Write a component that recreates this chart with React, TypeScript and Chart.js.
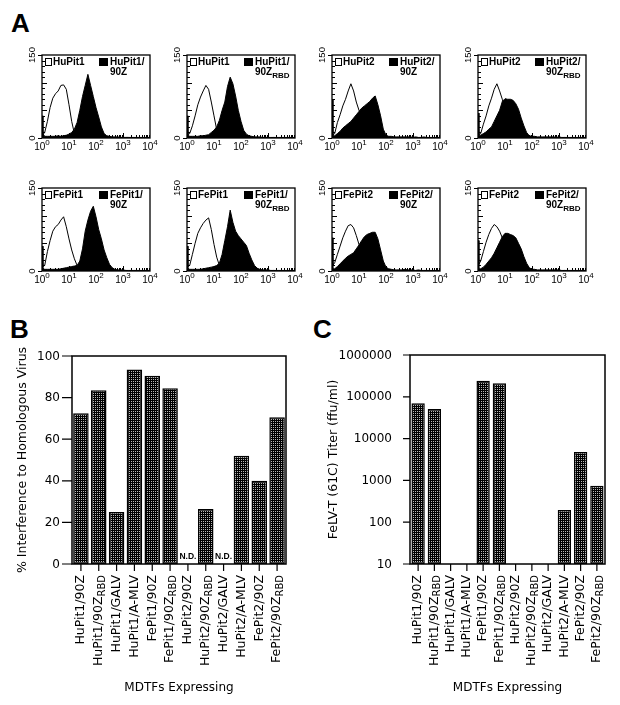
import React, { useEffect, useRef } from 'react';
import { Chart, registerables } from 'chart.js';

Chart.register(...registerables);

// ---------- Panel A: flow cytometry histograms ----------
// log10 fluorescence bin positions (decades)
const binExponents = [0, 0.03, 0.1, 0.2, 0.3, 0.4, 0.5, 0.6, 0.7, 0.8,
  0.9, 1.0, 1.1, 1.2, 1.3, 1.4, 1.5, 1.6, 1.7, 1.8,
  1.9, 2.0, 2.1, 2.2, 2.3, 2.4, 2.5, 2.6, 2.7, 2.8,
  2.9, 3.0, 3.1, 3.2, 3.3, 3.4, 3.5, 3.6, 3.7, 3.8,
  3.9, 4.0];

const huPit1Open = [40, 6, 10, 30, 55, 72, 80, 85, 95, 96,
  88, 60, 30, 8, 4, 3, 3, 2, 2, 2,
  2, 2, 1, 1, 1, 1, 1, 1, 1, 1,
  1, 1, 1, 1, 0, 1, 0, 0, 1, 0,
  0, 0];
const huPit1_90Z = [40, 8, 3, 3, 3, 3, 3, 4, 3, 4,
  5, 7, 10, 16, 28, 50, 75, 95, 115, 95,
  75, 55, 38, 20, 8, 4, 3, 2, 2, 2,
  1, 1, 1, 1, 1, 1, 1, 1, 1, 1,
  1, 1];
const huPit1OpenB = [40, 6, 8, 22, 40, 60, 74, 85, 95, 88,
  65, 40, 15, 6, 4, 3, 2, 2, 2, 2,
  2, 1, 1, 1, 1, 1, 1, 1, 1, 1,
  1, 1, 0, 1, 0, 0, 1, 0, 0, 0,
  0, 0];
const huPit1_90ZRBD = [40, 6, 3, 3, 3, 3, 4, 4, 5, 6,
  10, 14, 20, 32, 50, 65, 93, 110, 98, 76,
  50, 30, 14, 7, 4, 3, 2, 2, 2, 1,
  1, 1, 1, 1, 1, 1, 1, 1, 1, 1,
  1, 1];
const huPit2Open = [70, 5, 8, 28, 42, 58, 70, 85, 98, 85,
  65, 50, 35, 18, 6, 4, 3, 2, 2, 2,
  2, 2, 1, 1, 1, 1, 1, 1, 1, 1,
  1, 1, 1, 0, 1, 0, 0, 1, 0, 0,
  0, 0];
const huPit2_90Z = [70, 4, 4, 8, 12, 18, 22, 26, 30, 36,
  42, 48, 54, 58, 62, 66, 72, 76, 60, 40,
  16, 5, 3, 3, 2, 2, 2, 2, 2, 2,
  2, 1, 2, 1, 1, 2, 1, 1, 1, 1,
  1, 1];
const huPit2OpenB = [45, 6, 8, 25, 40, 58, 72, 88, 98, 85,
  70, 50, 30, 12, 5, 3, 2, 2, 2, 2,
  2, 1, 1, 1, 1, 1, 1, 1, 1, 1,
  1, 1, 0, 1, 0, 0, 1, 0, 0, 0,
  0, 0];
const huPit2_90ZRBD = [45, 5, 5, 8, 11, 16, 20, 30, 40, 50,
  66, 71, 70, 70, 68, 62, 52, 36, 22, 10,
  4, 3, 3, 2, 2, 2, 2, 2, 2, 2,
  1, 2, 1, 1, 1, 1, 1, 1, 1, 1,
  1, 1];
const fePit1Open = [45, 8, 10, 35, 55, 72, 80, 84, 92, 98,
  80, 58, 38, 22, 10, 5, 4, 3, 2, 2,
  2, 2, 1, 1, 1, 1, 1, 1, 1, 1,
  1, 1, 1, 0, 1, 0, 0, 1, 0, 0,
  0, 0];
const fePit1_90Z = [45, 5, 3, 3, 3, 3, 3, 3, 4, 5,
  6, 7, 8, 9, 10, 18, 40, 72, 92, 108,
  117, 98, 75, 58, 38, 24, 12, 6, 3, 2,
  2, 2, 1, 1, 1, 1, 1, 1, 1, 1,
  1, 1];
const fePit1OpenB = [45, 8, 10, 30, 50, 68, 78, 86, 92, 96,
  75, 48, 25, 10, 5, 3, 3, 2, 2, 2,
  2, 1, 1, 1, 1, 1, 1, 1, 1, 1,
  1, 1, 0, 1, 0, 0, 1, 0, 0, 0,
  0, 0];
const fePit1_90ZRBD = [45, 5, 3, 3, 3, 3, 3, 4, 5, 6,
  7, 8, 10, 14, 30, 55, 80, 110, 88, 72,
  64, 58, 52, 46, 32, 20, 10, 5, 3, 2,
  2, 2, 1, 1, 1, 1, 1, 1, 1, 1,
  1, 1];
const fePit2Open = [60, 10, 15, 30, 45, 60, 72, 82, 84, 78,
  64, 48, 32, 16, 6, 3, 2, 2, 2, 2,
  2, 1, 1, 1, 1, 1, 1, 1, 1, 1,
  1, 1, 0, 1, 0, 0, 1, 0, 0, 0,
  0, 0];
const fePit2_90Z = [60, 4, 4, 8, 13, 18, 23, 27, 30, 33,
  40, 47, 55, 62, 66, 68, 70, 70, 58, 38,
  18, 7, 4, 3, 2, 2, 2, 2, 3, 2,
  2, 2, 1, 2, 1, 1, 1, 1, 1, 1,
  1, 1];
const fePit2OpenB = [55, 12, 18, 35, 52, 66, 77, 84, 80, 72,
  60, 45, 28, 12, 5, 3, 2, 2, 2, 2,
  2, 1, 1, 1, 1, 1, 1, 1, 1, 1,
  1, 1, 0, 1, 0, 0, 1, 0, 0, 0,
  0, 0];
const fePit2_90ZRBD = [55, 4, 4, 7, 12, 18, 24, 32, 42, 52,
  62, 68, 68, 66, 64, 60, 50, 40, 26, 14,
  6, 3, 3, 2, 2, 2, 2, 2, 2, 2,
  2, 2, 1, 1, 1, 1, 1, 1, 1, 1,
  1, 1];

const histogramOpenSeries = [huPit1Open, huPit1OpenB, huPit2Open, huPit2OpenB, fePit1Open, fePit1OpenB, fePit2Open, fePit2OpenB];
const histogramFilledSeries = [huPit1_90Z, huPit1_90ZRBD, huPit2_90Z, huPit2_90ZRBD, fePit1_90Z, fePit1_90ZRBD, fePit2_90Z, fePit2_90ZRBD];
const histogramOpenLabels = ['HuPit1', 'HuPit1', 'HuPit2', 'HuPit2', 'FePit1', 'FePit1', 'FePit2', 'FePit2'];
const histogramFilledLine1 = ['HuPit1/', 'HuPit1/', 'HuPit2/', 'HuPit2/', 'FePit1/', 'FePit1/', 'FePit2/', 'FePit2/'];
const histogramFilledLine2 = ['90Z', '90Z', '90Z', '90Z', '90Z', '90Z', '90Z', '90Z'];
const histogramFilledSub = ['', 'RBD', '', 'RBD', '', 'RBD', '', 'RBD'];
const histogramYTicks = [0, 150];
const histogramXTicks = [1, 10, 100, 1000, 10000];

// ---------- Panels B and C ----------
const categoryMain = ['HuPit1/90Z', 'HuPit1/90Z', 'HuPit1/GALV', 'HuPit1/A-MLV', 'FePit1/90Z', 'FePit1/90Z',
  'HuPit2/90Z', 'HuPit2/90Z', 'HuPit2/GALV', 'HuPit2/A-MLV', 'FePit2/90Z', 'FePit2/90Z'];
const categorySub = ['', 'RBD', '', '', '', 'RBD', '', 'RBD', '', '', '', 'RBD'];
const interferenceValues = [72.5, 83.5, 25, 93.5, 90.5, 84.5, null, 26.5, null, 52, 40, 70.5];
const interferenceNotes = ['', '', '', '', '', '', 'N.D.', '', 'N.D.', '', '', ''];
const interferenceTicks = [0, 20, 40, 60, 80, 100];
const titerValues = [70000, 51000, null, null, 243000, 210000, null, null, null, 196, 4800, 740];
const titerTicks = [10, 100, 1000, 10000, 100000, 1000000];

const SANS = '"Liberation Sans", Arial, Helvetica, sans-serif';
const GOTHIC = '"DejaVu Sans", Verdana, sans-serif';

// layout of histogram frames on the page
const HIST_BOXES = [
  { left: 42, top: 55 }, { left: 187, top: 55 }, { left: 332, top: 55 }, { left: 478, top: 55 },
  { left: 42, top: 188 }, { left: 187, top: 188 }, { left: 332, top: 188 }, { left: 478, top: 188 },
];
const HIST_W = 108;
const HIST_H = 83;
const HP = { left: 20, right: 14, top: 10, bottom: 20 };

function histDecor(idx: number) {
  return {
    id: 'histDecor',
    afterDraw(chart: any) {
      const ctx = chart.ctx as CanvasRenderingContext2D;
      const a = chart.chartArea;
      const xs = chart.scales.x;
      const ys = chart.scales.y;
      ctx.save();
      ctx.strokeStyle = '#000';
      ctx.fillStyle = '#000';
      ctx.lineWidth = 1.3;
      ctx.strokeRect(a.left, a.top, a.right - a.left, a.bottom - a.top);
      ctx.lineWidth = 1;
      ctx.beginPath();
      for (let v = 10; v < 150; v += 10) {
        const y = Math.round(ys.getPixelForValue(v)) + 0.5;
        ctx.moveTo(a.left, y);
        ctx.lineTo(a.left + (v % 50 === 0 ? 5 : 3), y);
      }
      histogramYTicks.forEach((v) => {
        const y = Math.round(ys.getPixelForValue(v)) + 0.5;
        ctx.moveTo(a.left - 4, y);
        ctx.lineTo(a.left, y);
      });
      histogramXTicks.forEach((d) => {
        if (d > 1 && d < 10000) {
          const x = Math.round(xs.getPixelForValue(d)) + 0.5;
          ctx.moveTo(x, a.bottom);
          ctx.lineTo(x, a.bottom - 5);
        }
        for (let m = 2; m <= 9; m++) {
          const v = d * m;
          if (v >= 10000) break;
          const x = Math.round(xs.getPixelForValue(v)) + 0.5;
          ctx.moveTo(x, a.bottom);
          ctx.lineTo(x, a.bottom - 3);
        }
      });
      ctx.stroke();

      // x tick labels 10^n
      ctx.textBaseline = 'middle';
      ctx.textAlign = 'left';
      histogramXTicks.forEach((d, k) => {
        const x = xs.getPixelForValue(d);
        ctx.font = '10px ' + SANS;
        const wb = ctx.measureText('10').width;
        ctx.font = '8px ' + SANS;
        const sup = String(k);
        const ws = ctx.measureText(sup).width;
        const x0 = x - (wb + ws) / 2;
        ctx.font = '10px ' + SANS;
        ctx.fillText('10', x0, a.bottom + 9);
        ctx.font = '8px ' + SANS;
        ctx.fillText(sup, x0 + wb, a.bottom + 5);
      });
      // y tick labels (rotated)
      ctx.font = '9.5px ' + SANS;
      ctx.textAlign = 'center';
      histogramYTicks.forEach((v) => {
        ctx.save();
        ctx.translate(a.left - 10, ys.getPixelForValue(v));
        ctx.rotate(-Math.PI / 2);
        ctx.fillText(String(v), 0, 0);
        ctx.restore();
      });

      // legend
      ctx.textAlign = 'left';
      ctx.font = 'bold 10px ' + SANS;
      ctx.lineWidth = 1;
      ctx.strokeRect(a.left + 3.5, a.top + 3.5, 6, 7);
      ctx.fillText(histogramOpenLabels[idx], a.left + 11, a.top + 7.5);
      ctx.fillRect(a.left + 57, a.top + 3, 9, 8);
      ctx.fillText(histogramFilledLine1[idx], a.left + 68, a.top + 7.5);
      const l2 = histogramFilledLine2[idx];
      ctx.fillText(l2, a.left + 68, a.top + 17.5);
      const sub = histogramFilledSub[idx];
      if (sub) {
        const w2 = ctx.measureText(l2).width;
        ctx.font = 'bold 8px ' + SANS;
        ctx.fillText(sub, a.left + 68 + w2, a.top + 20.5);
      }
      ctx.restore();
    },
  };
}

function makeHistogram(canvas: HTMLCanvasElement, idx: number) {
  const open = histogramOpenSeries[idx];
  const filled = histogramFilledSeries[idx];
  return new Chart(canvas, {
    type: 'line',
    data: {
      datasets: [
        {
          data: binExponents.map((e, i) => ({ x: Math.pow(10, e), y: filled[i] })),
          borderColor: '#000',
          backgroundColor: '#000',
          borderWidth: 1,
          fill: 'origin',
          pointRadius: 0,
          tension: 0,
        },
        {
          data: binExponents.map((e, i) => ({ x: Math.pow(10, e), y: open[i] })),
          borderColor: '#000',
          backgroundColor: 'rgba(0,0,0,0)',
          borderWidth: 1,
          fill: false,
          pointRadius: 0,
          tension: 0,
        },
      ],
    },
    options: {
      animation: false,
      responsive: false,
      events: [],
      layout: { padding: HP },
      plugins: { legend: { display: false }, tooltip: { enabled: false } },
      scales: {
        x: { type: 'logarithmic', min: 1, max: 10000, display: false },
        y: { type: 'linear', min: 0, max: 150, display: false },
      },
    },
    plugins: [histDecor(idx)],
  } as any);
}

function makeStipple(ctx: CanvasRenderingContext2D) {
  const c = document.createElement('canvas');
  c.width = 2;
  c.height = 2;
  const g = c.getContext('2d')!;
  g.fillStyle = '#000';
  g.fillRect(0, 0, 2, 2);
  g.fillStyle = '#b8b8b8';
  g.fillRect(1, 1, 1, 1);
  return ctx.createPattern(c, 'repeat');
}

interface BarDecorOpts {
  yTicks: number[];
  tickLen: number;
  labelGap: number;
  yTitle: string;
  yTitleX: number;
  notes?: string[];
}

function barDecor(o: BarDecorOpts) {
  return {
    id: 'barDecor',
    afterDraw(chart: any) {
      const ctx = chart.ctx as CanvasRenderingContext2D;
      const a = chart.chartArea;
      const xs = chart.scales.x;
      const ys = chart.scales.y;
      ctx.save();
      ctx.strokeStyle = '#000';
      ctx.fillStyle = '#000';
      ctx.lineWidth = 1.5;
      ctx.strokeRect(a.left, a.top, a.right - a.left, a.bottom - a.top);
      ctx.lineWidth = 1.2;
      ctx.beginPath();
      o.yTicks.forEach((v) => {
        const y = ys.getPixelForValue(v);
        ctx.moveTo(a.left - o.tickLen, y);
        ctx.lineTo(a.left, y);
      });
      categoryMain.forEach((_, i) => {
        const x = xs.getPixelForValue(i);
        ctx.moveTo(x, a.bottom);
        ctx.lineTo(x, a.bottom + 7);
      });
      ctx.stroke();

      // y tick labels
      ctx.font = '12px ' + GOTHIC;
      ctx.textAlign = 'right';
      ctx.textBaseline = 'middle';
      o.yTicks.forEach((v) => {
        ctx.fillText(String(v), a.left - o.labelGap, ys.getPixelForValue(v) + 0.5);
      });

      // category labels, rotated, with subscript
      categoryMain.forEach((m, i) => {
        const x = xs.getPixelForValue(i);
        const sub = categorySub[i];
        ctx.font = '12.5px ' + GOTHIC;
        const wm = ctx.measureText(m).width;
        ctx.font = '10px ' + GOTHIC;
        const wsub = sub ? ctx.measureText(sub).width : 0;
        ctx.save();
        ctx.translate(x, a.bottom + 11);
        ctx.rotate(-Math.PI / 2);
        ctx.textAlign = 'left';
        ctx.textBaseline = 'middle';
        ctx.font = '12.5px ' + GOTHIC;
        ctx.fillText(m, -(wm + wsub), 0);
        if (sub) {
          ctx.font = '10px ' + GOTHIC;
          ctx.fillText(sub, -wsub, 3.5);
        }
        ctx.restore();
      });

      // notes (N.D.)
      if (o.notes) {
        ctx.font = 'bold 8.5px ' + SANS;
        ctx.textAlign = 'center';
        ctx.textBaseline = 'middle';
        o.notes.forEach((n, i) => {
          if (n) ctx.fillText(n, xs.getPixelForValue(i), a.bottom - 7);
        });
      }

      // axis titles
      ctx.font = '12px ' + GOTHIC;
      ctx.textAlign = 'center';
      ctx.textBaseline = 'middle';
      ctx.fillText('MDTFs Expressing', (a.left + a.right) / 2, a.bottom + 124);
      ctx.save();
      ctx.translate(o.yTitleX, (a.top + a.bottom) / 2);
      ctx.rotate(-Math.PI / 2);
      ctx.font = '12.5px ' + GOTHIC;
      ctx.fillText(o.yTitle, 0, 0);
      ctx.restore();
      ctx.restore();
    },
  };
}

function makeBarChart(canvas: HTMLCanvasElement, values: (number | null)[], yScale: any, padding: any, barPct: number, decor: BarDecorOpts) {
  const ctx = canvas.getContext('2d')!;
  const pattern = makeStipple(ctx);
  return new Chart(canvas, {
    type: 'bar',
    data: {
      labels: categoryMain.map((m, i) => m + categorySub[i]),
      datasets: [
        {
          data: values,
          backgroundColor: pattern as any,
          borderColor: '#000',
          borderWidth: 1.5,
          borderSkipped: false,
          categoryPercentage: 1,
          barPercentage: barPct,
        },
      ],
    },
    options: {
      animation: false,
      responsive: false,
      events: [],
      layout: { padding },
      plugins: { legend: { display: false }, tooltip: { enabled: false } },
      scales: {
        x: { type: 'category', display: false },
        y: { ...yScale, display: false },
      },
    },
    plugins: [barDecor(decor)],
  } as any);
}

const letterStyle = (left: number, top: number): React.CSSProperties => ({
  position: 'absolute',
  left,
  top,
  font: 'bold 26px ' + SANS,
  lineHeight: '26px',
  color: '#000',
  margin: 0,
});

export default function App() {
  const histRefs = useRef<(HTMLCanvasElement | null)[]>([]);
  const bRef = useRef<HTMLCanvasElement | null>(null);
  const cRef = useRef<HTMLCanvasElement | null>(null);

  useEffect(() => {
    const charts: Chart[] = [];
    histRefs.current.forEach((c, i) => {
      if (c) charts.push(makeHistogram(c, i));
    });
    if (bRef.current) {
      charts.push(
        makeBarChart(
          bRef.current,
          interferenceValues,
          { type: 'linear', min: 0, max: 100 },
          { left: 72, right: 14, top: 16, bottom: 141 },
          0.87,
          { yTicks: interferenceTicks, tickLen: 10, labelGap: 12, yTitle: '% Interference to Homologous Virus', yTitleX: 23, notes: interferenceNotes }
        )
      );
    }
    if (cRef.current) {
      charts.push(
        makeBarChart(
          cRef.current,
          titerValues,
          { type: 'logarithmic', min: 10, max: 1000000 },
          { left: 110, right: 15, top: 15, bottom: 141 },
          0.82,
          { yTicks: titerTicks, tickLen: 7, labelGap: 18, yTitle: 'FeLV-T (61C) Titer (ffu/ml)', yTitleX: 34 }
        )
      );
    }
    return () => charts.forEach((ch) => ch.destroy());
  }, []);

  return (
    <div style={{ position: 'absolute', left: 0, top: 0, width: 620, height: 705, background: '#fff', overflow: 'hidden' }}>
      <div style={letterStyle(11, 10)}>A</div>
      <div style={letterStyle(10, 316)}>B</div>
      <div style={letterStyle(313, 316)}>C</div>
      {HIST_BOXES.map((b, i) => (
        <canvas
          key={i}
          ref={(el) => {
            histRefs.current[i] = el;
          }}
          width={HIST_W + HP.left + HP.right}
          height={HIST_H + HP.top + HP.bottom}
          style={{ position: 'absolute', left: b.left - HP.left, top: b.top - HP.top }}
        />
      ))}
      <canvas ref={bRef} width={300} height={365} style={{ position: 'absolute', left: 0, top: 340 }} />
      <canvas ref={cRef} width={320} height={365} style={{ position: 'absolute', left: 300, top: 340 }} />
    </div>
  );
}
